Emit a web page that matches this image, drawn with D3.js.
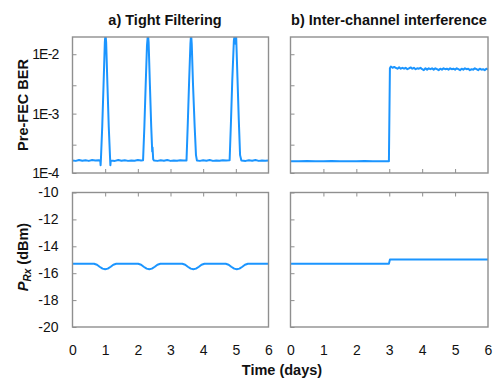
<!DOCTYPE html>
<html>
<head>
<meta charset="utf-8">
<script src="https://cdn.jsdelivr.net/npm/d3@7"></script>
<style>
  html, body { margin: 0; padding: 0; background: #fff; }
  svg { display: block; font-family: "Liberation Sans", Arial, sans-serif; }
</style>
</head>
<body>
<svg id="chart" width="493" height="381"></svg>
<script>
// ---------------- DATA ----------------
const panelTitles = ["a) Tight Filtering", "b) Inter-channel interference"];
const xTickLabels = [0, 1, 2, 3, 4, 5, 6];
const berTicks = [1e-4, 3e-4, 1e-3, 3e-3, 1e-2];
const berTickLabels = ["1E-4", "", "1E-3", "", "1E-2"];
const powerTicks = [-20, -18, -16, -14, -12, -10];

// (a) Tight filtering – pre-FEC BER
const timeBerA = [0.00, 0.10, 0.20, 0.30, 0.40, 0.50, 0.60, 0.70, 0.80, 0.85, 0.86, 0.87, 0.91, 0.95, 0.99, 1.01, 1.03, 1.07, 1.11, 1.15, 1.16, 1.17,
  1.30, 1.40, 1.50, 1.60, 1.70, 1.80, 1.90, 2.00, 2.10, 2.16, 2.20, 2.24, 2.28, 2.31, 2.33, 2.37, 2.41, 2.43, 2.44, 2.45, 2.47, 2.50,
  2.60, 2.70, 2.80, 2.90, 3.00, 3.10, 3.20, 3.30, 3.40, 3.49, 3.53, 3.57, 3.61, 3.63, 3.65, 3.69, 3.74, 3.78, 3.81,
  3.90, 4.00, 4.10, 4.20, 4.30, 4.40, 4.50, 4.60, 4.70, 4.81, 4.85, 4.89, 4.94, 4.97, 4.99, 5.01, 5.05, 5.09, 5.13, 5.17,
  5.30, 5.40, 5.50, 5.60, 5.70, 5.80, 5.90, 6.00];
const berA = [1.63e-4, 1.60e-4, 1.66e-4, 1.61e-4, 1.64e-4, 1.60e-4, 1.65e-4, 1.62e-4, 1.64e-4, 1.62e-4, 1.35e-4, 1.70e-4, 6.0e-4, 3.0e-3, 1.6e-2, 2.2e-2, 1.6e-2, 3.0e-3, 6.0e-4, 1.8e-4, 1.35e-4, 1.62e-4,
  1.60e-4, 1.65e-4, 1.61e-4, 1.64e-4, 1.60e-4, 1.63e-4, 1.61e-4, 1.65e-4, 1.62e-4, 1.64e-4, 6.0e-4, 3.0e-3, 1.4e-2, 2.2e-2, 1.6e-2, 3.0e-3, 6.0e-4, 3.2e-4, 2.3e-4, 2.7e-4, 1.7e-4, 1.62e-4,
  1.60e-4, 1.64e-4, 1.61e-4, 1.65e-4, 1.60e-4, 1.63e-4, 1.61e-4, 1.64e-4, 1.62e-4, 1.63e-4, 7.0e-4, 3.5e-3, 1.5e-2, 2.2e-2, 1.5e-2, 3.0e-3, 6.0e-4, 2.0e-4, 1.62e-4,
  1.60e-4, 1.64e-4, 1.61e-4, 1.65e-4, 1.60e-4, 1.63e-4, 1.61e-4, 1.64e-4, 1.62e-4, 1.64e-4, 7.0e-4, 3.5e-3, 1.7e-2, 2.2e-2, 1.5e-2, 2.0e-2, 4.0e-3, 8.0e-4, 2.0e-4, 1.62e-4,
  1.60e-4, 1.64e-4, 1.61e-4, 1.65e-4, 1.60e-4, 1.63e-4, 1.61e-4, 1.63e-4];

// (b) Inter-channel interference – pre-FEC BER
const timeBerB = [0.00, 0.25, 0.50, 0.75, 1.00, 1.25, 1.50, 1.75, 2.00, 2.25, 2.50, 2.75, 2.99, 3.02,
  3.05, 3.10, 3.15, 3.20, 3.25, 3.30, 3.35, 3.40, 3.45, 3.50, 3.55, 3.60, 3.65, 3.70, 3.75, 3.80, 3.85, 3.90, 3.95,
  4.00, 4.05, 4.10, 4.15, 4.20, 4.25, 4.30, 4.35, 4.40, 4.45, 4.50, 4.55, 4.60, 4.65, 4.70, 4.75, 4.80, 4.85, 4.90, 4.95,
  5.00, 5.05, 5.10, 5.15, 5.20, 5.25, 5.30, 5.35, 5.40, 5.45, 5.50, 5.55, 5.60, 5.65, 5.70, 5.75, 5.80, 5.85, 5.90, 5.95, 6.00];
const berB = [1.58e-4, 1.57e-4, 1.59e-4, 1.58e-4, 1.57e-4, 1.59e-4, 1.58e-4, 1.57e-4, 1.58e-4, 1.59e-4, 1.57e-4, 1.58e-4, 1.58e-4, 5.8e-3,
  6.2e-3, 5.9e-3, 6.1e-3, 5.9e-3, 5.7e-3, 6.0e-3, 5.7e-3, 5.9e-3, 5.7e-3, 5.9e-3, 5.6e-3, 5.8e-3, 6.0e-3, 5.7e-3, 5.9e-3, 5.6e-3, 5.8e-3, 5.7e-3, 5.9e-3,
  5.6e-3, 5.4e-3, 5.8e-3, 5.5e-3, 5.8e-3, 5.6e-3, 5.8e-3, 5.5e-3, 5.8e-3, 5.6e-3, 5.4e-3, 5.7e-3, 5.5e-3, 5.8e-3, 5.6e-3, 5.7e-3, 5.5e-3, 5.8e-3, 5.6e-3, 5.7e-3,
  5.5e-3, 5.8e-3, 5.6e-3, 5.4e-3, 5.7e-3, 5.5e-3, 5.8e-3, 5.6e-3, 5.7e-3, 5.4e-3, 5.6e-3, 5.5e-3, 5.8e-3, 5.6e-3, 5.4e-3, 5.7e-3, 5.5e-3, 5.6e-3, 5.4e-3, 5.7e-3, 5.5e-3];

// (a) Tight filtering – received power (dBm)
const timePowA = [0.00, 0.66, 0.75, 0.83, 0.92, 1.00, 1.08, 1.17, 1.25, 1.34,
  2.01, 2.10, 2.18, 2.27, 2.35, 2.43, 2.52, 2.60, 2.69,
  3.36, 3.45, 3.53, 3.62, 3.70, 3.78, 3.87, 3.95, 4.04,
  4.69, 4.78, 4.86, 4.95, 5.03, 5.11, 5.20, 5.28, 5.37, 6.00];
const powA = [-15.30, -15.30, -15.37, -15.52, -15.66, -15.70, -15.66, -15.52, -15.37, -15.30,
  -15.30, -15.37, -15.52, -15.66, -15.70, -15.66, -15.52, -15.37, -15.30,
  -15.30, -15.37, -15.52, -15.66, -15.70, -15.66, -15.52, -15.37, -15.30,
  -15.30, -15.37, -15.52, -15.66, -15.70, -15.66, -15.52, -15.37, -15.30, -15.30];

// (b) Inter-channel interference – received power (dBm)
const timePowB = [0.00, 1.00, 2.00, 2.99, 3.02, 4.00, 5.00, 6.00];
const powB = [-15.30, -15.30, -15.29, -15.30, -14.99, -14.98, -14.99, -14.98];

// ---------------- LAYOUT ----------------
const svg = d3.select("#chart");
const blue = "#1b95ff";
const frameColor = "#8f8f8f";
const cols = [{x0: 72.5, x1: 268.5}, {x0: 290.5, x1: 488}];
const rows = [{y0: 37, y1: 173}, {y0: 192.5, y1: 327}];

const xScales = cols.map(c => d3.scaleLinear().domain([0, 6]).range([c.x0, c.x1]));
const yBer = d3.scaleLog().domain([1e-4, Math.pow(10, -1.71)]).range([rows[0].y1, rows[0].y0]);
const yPow = d3.scaleLinear().domain([-20, -10]).range([rows[1].y1, rows[1].y0]);

const defs = svg.append("defs");

function panel(ci, ri, times, vals, yScale, isLog) {
  const c = cols[ci], r = rows[ri], x = xScales[ci];
  const id = `clip${ci}${ri}`;
  defs.append("clipPath").attr("id", id).append("rect")
    .attr("x", c.x0).attr("y", r.y0).attr("width", c.x1 - c.x0).attr("height", r.y1 - r.y0);

  const pts = times.map((t, i) => [t, vals[i]]);
  const line = d3.line().x(d => x(d[0])).y(d => yScale(d[1]));
  svg.append("path").datum(pts)
    .attr("clip-path", `url(#${id})`)
    .attr("fill", "none").attr("stroke", blue).attr("stroke-width", 2)
    .attr("stroke-linejoin", "round")
    .attr("d", line);

  // y axis (inward ticks)
  const yAxis = d3.axisLeft(yScale).tickSizeInner(-4).tickSizeOuter(0).tickPadding(14);
  if (isLog) {
    yAxis.tickValues(berTicks).tickFormat((d, i) => ci === 0 ? berTickLabels[i] : "");
  } else {
    yAxis.tickValues(powerTicks).tickFormat(d => ci === 0 ? d3.format("d")(d).replace("−", "-") : "");
  }
  const gy = svg.append("g").attr("transform", `translate(${c.x0},0)`).call(yAxis);

  // x ticks inward (bottom of top panels, top of bottom panels)
  let gx;
  if (ri === 0) {
    gx = svg.append("g").attr("transform", `translate(0,${r.y1})`)
      .call(d3.axisBottom(x).tickValues([1, 2, 3, 4, 5]).tickSizeInner(-4).tickSizeOuter(0).tickFormat(""));
  } else {
    gx = svg.append("g").attr("transform", `translate(0,${r.y0})`)
      .call(d3.axisTop(x).tickValues([1, 2, 3, 4, 5]).tickSizeInner(-4).tickSizeOuter(0).tickFormat(""));
    // labels under bottom panels
    const gl = svg.append("g").attr("transform", `translate(0,${r.y1})`)
      .call(d3.axisBottom(x).tickValues(xTickLabels).tickSizeInner(0).tickSizeOuter(0).tickPadding(18).tickFormat(d3.format("d")));
    gl.select(".domain").remove();
    gl.selectAll("text").attr("font-size", 14).attr("fill", "#111").attr("font-family", "Liberation Sans, Arial, sans-serif");
  }
  [gy, gx].forEach(g => {
    g.select(".domain").remove();
    g.selectAll("line").attr("stroke", frameColor).attr("stroke-width", 1);
    g.selectAll("text").attr("font-size", 14).attr("fill", "#111").attr("font-family", "Liberation Sans, Arial, sans-serif");
  });
  if (isLog) gy.selectAll("text").attr("letter-spacing", "-0.8px");

  svg.append("rect")
    .attr("x", c.x0).attr("y", r.y0).attr("width", c.x1 - c.x0).attr("height", r.y1 - r.y0)
    .attr("fill", "none").attr("stroke", frameColor).attr("stroke-width", 1.4);
}

panel(0, 0, timeBerA, berA, yBer, true);
panel(1, 0, timeBerB, berB, yBer, true);
panel(0, 1, timePowA, powA, yPow, false);
panel(1, 1, timePowB, powB, yPow, false);

// Titles
svg.append("text").attr("x", 165).attr("y", 25).attr("text-anchor", "middle")
  .attr("font-size", 14.5).attr("font-weight", "bold").attr("fill", "#111").text(panelTitles[0]);
svg.append("text").attr("x", 389).attr("y", 25).attr("text-anchor", "middle")
  .attr("font-size", 14.5).attr("font-weight", "bold").attr("fill", "#111").text(panelTitles[1]);

// Y labels
svg.append("text").attr("transform", "translate(27.5,105) rotate(-90)").attr("text-anchor", "middle")
  .attr("font-size", 14.5).attr("font-weight", "bold").attr("fill", "#111").text("Pre-FEC BER");

const pl = svg.append("text").attr("transform", "translate(27.5,257) rotate(-90)").attr("text-anchor", "middle")
  .attr("font-size", 14.5).attr("font-weight", "bold").attr("fill", "#111");
pl.append("tspan").attr("font-style", "italic").text("P");
pl.append("tspan").attr("font-style", "italic").attr("font-size", 10).attr("dy", 3).text("Rx");
pl.append("tspan").attr("dy", -3).text(" (dBm)");

// X label
svg.append("text").attr("x", 282).attr("y", 375).attr("text-anchor", "middle")
  .attr("font-size", 14.5).attr("font-weight", "bold").attr("fill", "#111").text("Time (days)");
</script>
</body>
</html>
